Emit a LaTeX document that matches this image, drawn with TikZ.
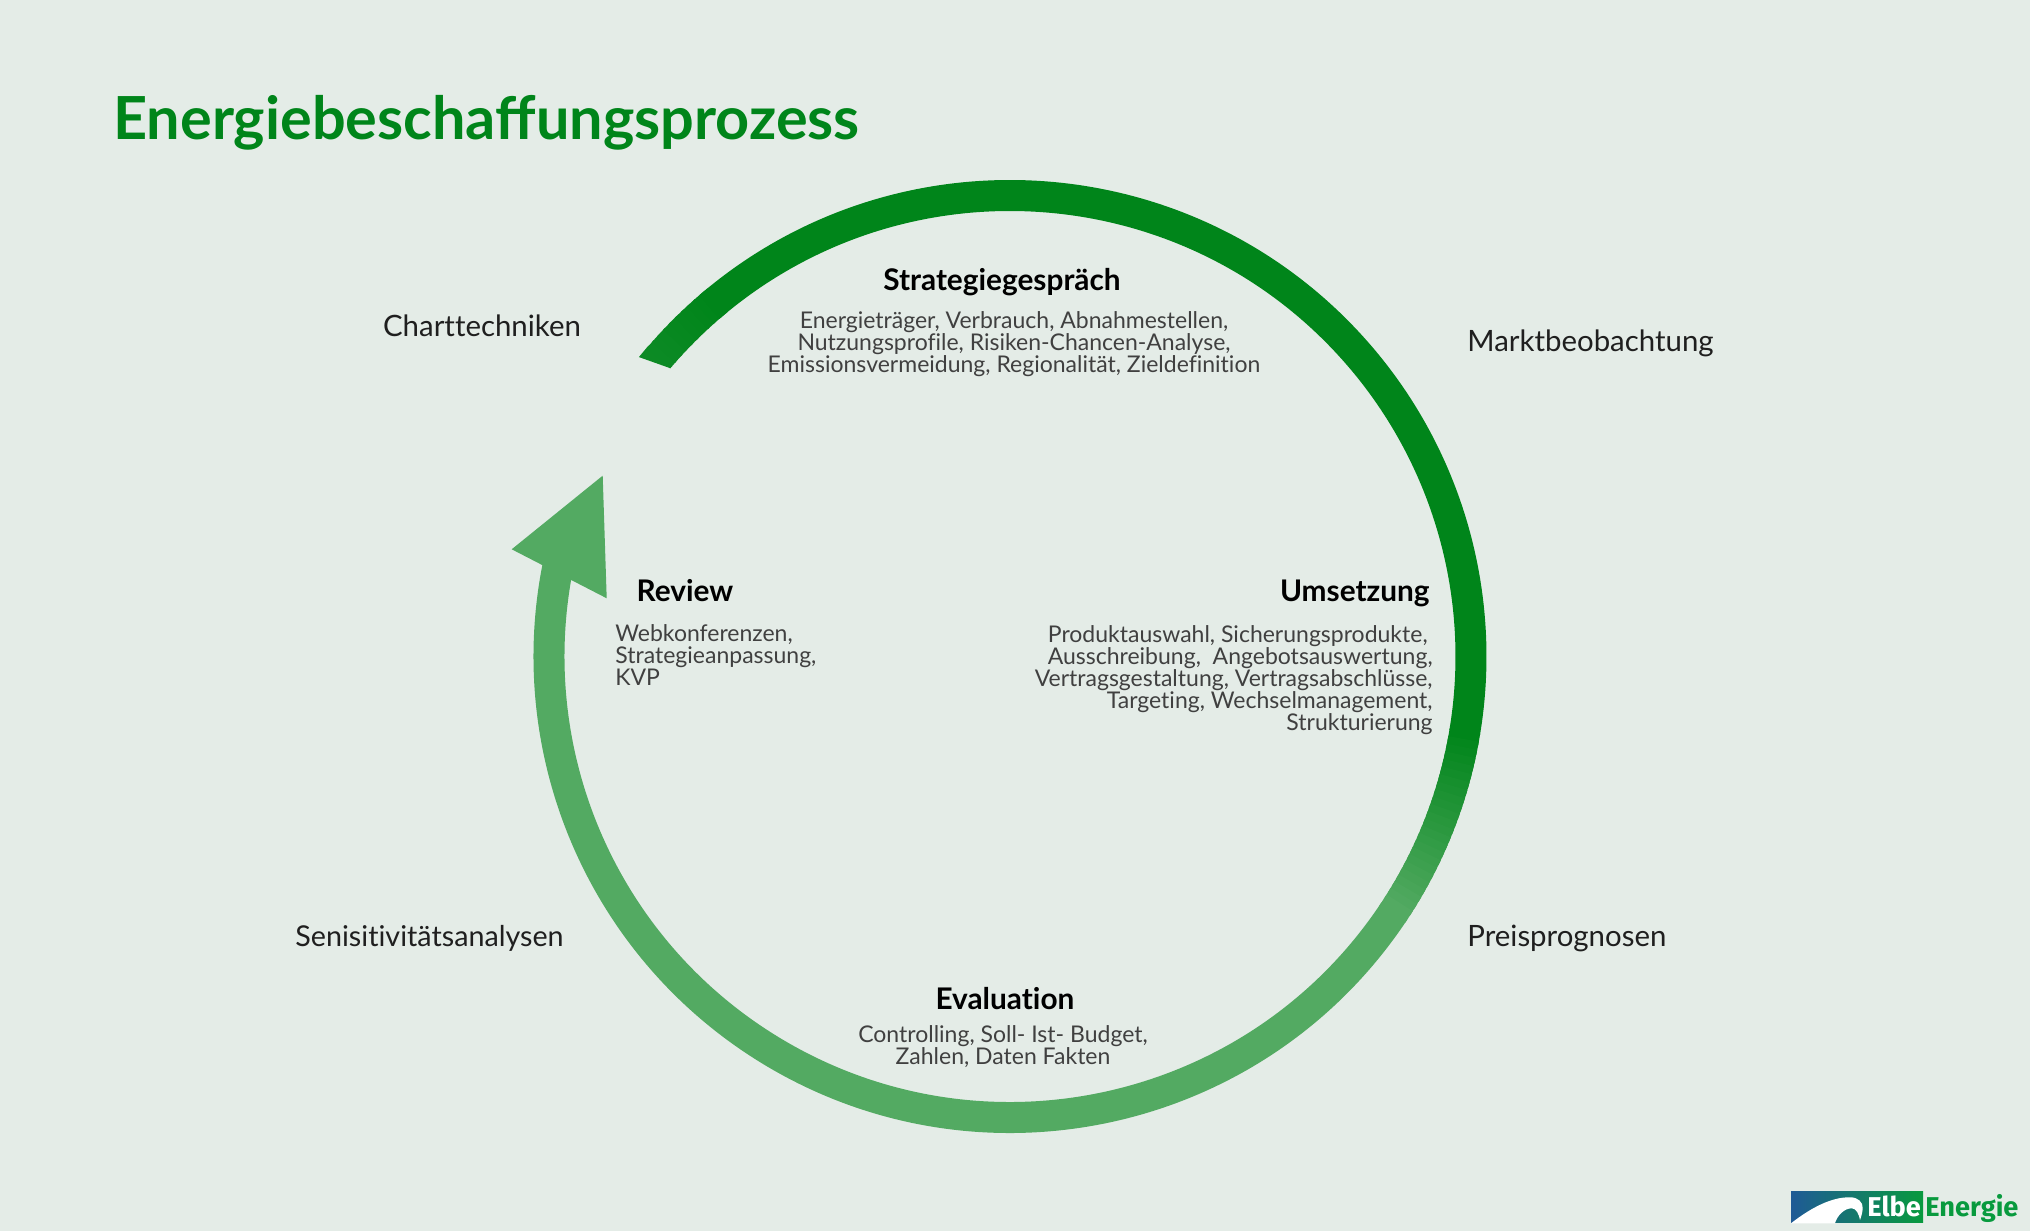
\documentclass[tikz,border=0pt]{standalone}
\usepackage{fontspec}
\setmainfont{Lato}[Ligatures=NoCommon]
\newfontfamily\titlefont{Lato}
\newfontfamily\logofont{Fira Sans}
\usetikzlibrary{calc}
\definecolor{pagebg}{HTML}{E4ECE7}
\definecolor{ringdark}{HTML}{00851A}
\definecolor{ringlight}{HTML}{53AA62}
\definecolor{logoblue}{HTML}{1F5A96}
\definecolor{logogreen}{HTML}{089A3E}
\tikzset{ringseg/.style={line width=15.5pt},
  head/.style={font=\fontsize{14.9}{16}\selectfont\bfseries, text=black, inner sep=0pt},
  items/.style={font=\fontsize{11.5}{11}\selectfont, text=black!75, inner sep=0pt},
  outer/.style={font=\fontsize{14.7}{16}\selectfont, text=black!88, inner sep=0pt}}

\begin{document}
\begin{tikzpicture}[x=.5pt,y=.5pt]
  \fill[pagebg] (0,0) rectangle (2030,1231);
  \useasboundingbox (0,0) rectangle (2030,1231);
  \coordinate (ring) at (1010,574.5);
  \node[anchor=base west, inner sep=0pt, text=ringdark, font=\fontsize{29.7}{36}\titlefont\bfseries] (title) at (113,1091) {Energiebeschaffungsprozess};
  % ring, start of the line and the dark part
  \fill[ringlight!14!ringdark] ([shift=(141.1:476.8)]ring) arc[start angle=141.1, end angle=139.3, radius=476.8]
    -- ([shift=(139.3:445.5)]ring) -- ([shift=(139.7:445.9)]ring) -- cycle;
  \foreach \a in {139.7,138.7,...,130.7} {
    \pgfmathsetmacro\mixval{(\a-130.7)*1.5}
    \draw[ringseg, ringlight!\mixval!ringdark] ([shift=(\a:461)]ring) arc[start angle=\a, end angle=\a-1.3, radius=461];
  }
  \draw[ringseg, ringdark] ([shift=(130.5:461)]ring) arc[start angle=130.5, end angle=-9.5, radius=461];
  % fade to the light part
  \foreach \a in {-10,-11,...,-33} {
    \pgfmathsetmacro\mixval{(-10-\a)*100/23}
    \draw[ringseg, ringlight!\mixval!ringdark] ([shift=(\a+.7:461)]ring) arc[start angle=\a+.7, end angle=\a-1, radius=461];
  }
  \draw[ringseg, ringlight] ([shift=(-33.5:461)]ring) arc[start angle=-33.5, end angle=-193, radius=461];
  \fill[ringlight] (602.7,755.3) -- (511.7,681.7) -- (606.7,632.7) -- cycle;
  % labels in the ring
  \node[head] (strategie) at (1002,949) {Strategiegespräch};
  \node[items, align=center] (strategietext) at (1014,887) {Energieträger, Verbrauch, Abnahmestellen,\\Nutzungsprofile, Risiken-Chancen-Analyse,\\Emissionsvermeidung, Regionalität, Zieldefinition};
  \node[head] (review) at (685,640) {Review};
  \node[items, align=left, anchor=west] (reviewtext) at (615,576) {Webkonferenzen,\\Strategieanpassung,\\KVP};
  \node[head, anchor=east] (umsetzung) at (1430,638) {Umsetzung};
  \node[items, align=right, anchor=east] (umsetzungtext) at (1433,551) {Produktauswahl, Sicherungsprodukte,\hspace*{2.5pt}\\Ausschreibung,\ \ Angebotsauswertung,\hspace*{2.5pt}\\Vertragsgestaltung, Vertragsabschlüsse,\\Targeting, Wechselmanagement,\hspace*{2.5pt}\\Strukturierung};
  \node[head] (evaluation) at (1005,232) {Evaluation};
  \node[items, align=center] (evaluationtext) at (1003,184) {Controlling, Soll- Ist- Budget,\\Zahlen, Daten Fakten};
  % labels around the ring
  \node[outer] (chart) at (482,905) {Charttechniken};
  \node[outer, anchor=west] (markt) at (1467,888) {Marktbeobachtung};
  \node[outer, anchor=west] (preis) at (1467,293) {Preisprognosen};
  \node[outer, anchor=west, font=\fontsize{14.35}{16}\selectfont] (sensi) at (295,293) {Senisitivitätsanalysen};
  % logo
  \shade[left color=logoblue, right color=logogreen] (1791,8) rectangle (1923,39);
  \fill[white] (1791,7.7) .. controls (1812,24) and (1832,34) .. (1850,33.7) .. controls (1858,33.7) and (1863,29) .. (1862.7,22.7) .. controls (1862.5,18) and (1861,14) .. (1860,11) .. controls (1859,17) and (1856,22.7) .. (1851.7,22.7) .. controls (1844,22.7) and (1837,15) .. (1835,7.7) -- cycle;
  \node[anchor=base west, inner sep=0pt, text=white, font=\fontsize{13.6}{14}\logofont\bfseries] (elbe) at (1867,14) {Elbe};
  \node[anchor=base west, inner sep=0pt, text=logogreen, font=\fontsize{13.6}{14}\logofont\bfseries] (energie) at (1925,14) {Energie};
\end{tikzpicture}
\end{document}
